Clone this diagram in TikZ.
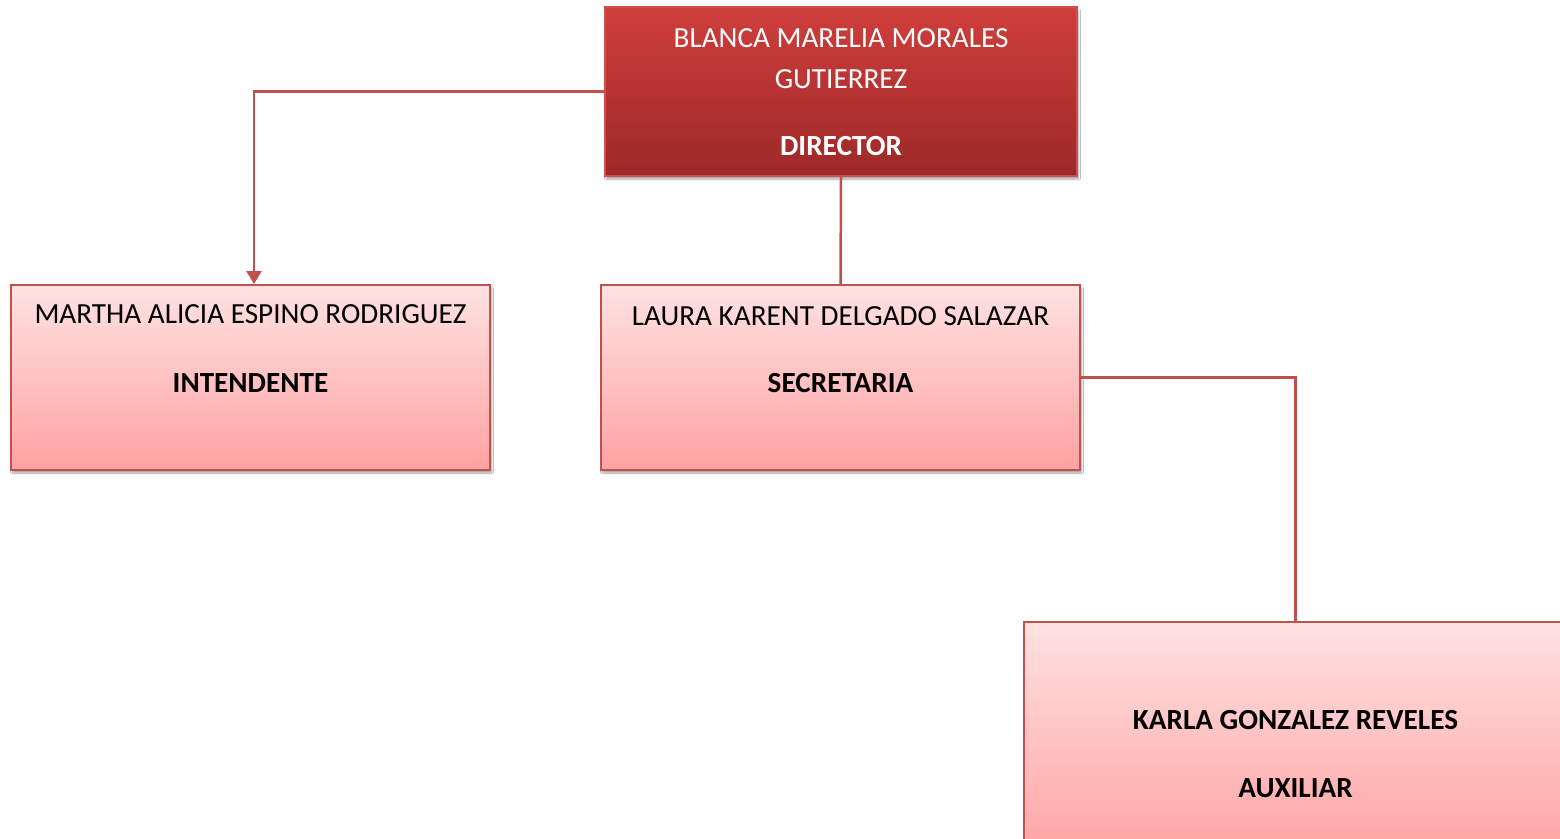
\documentclass[tikz,border=0pt]{standalone}
\usepackage{fontspec}
\setmainfont{Carlito}
\usetikzlibrary{arrows.meta,shadows.blur}
\definecolor{conncol}{RGB}{192,80,77}
\definecolor{darktop}{RGB}{207,62,59}
\definecolor{darkbot}{RGB}{157,41,41}
\definecolor{lighttop}{RGB}{255,226,226}
\definecolor{lightbot}{RGB}{255,162,162}
\definecolor{darkborder}{RGB}{205,80,76}
\tikzset{
  boxbase/.style={rectangle, inner sep=0pt, line width=2pt,
    blur shadow={shadow xshift=1.5pt, shadow yshift=-3pt, shadow blur steps=6, shadow opacity=35}},
  darkbox/.style={boxbase, draw=darkborder, top color=darktop, bottom color=darkbot},
  lightbox/.style={boxbase, draw=conncol, top color=lighttop, bottom color=lightbot},
  txt/.style={anchor=base, inner sep=0pt, font=\fontsize{29.2}{35}\selectfont},
  btxt/.style={txt, font=\fontsize{29.2}{35}\selectfont\bfseries},
  wtxt/.style={txt, text=white},
  conn/.style={draw=conncol, line width=2.5pt},
}
\begin{document}
\begin{tikzpicture}[x=1pt,y=-1pt]
\useasboundingbox (0,0) rectangle (1560,838);
\fill[white] (0,0) rectangle (1560,838);
% boxes
\node[darkbox, minimum width=472pt, minimum height=169pt] (dir) at (841,91.5) {};
\node[lightbox, minimum width=479pt, minimum height=185pt] (mar) at (250.5,377.5) {};
\node[lightbox, minimum width=479pt, minimum height=185pt] (lau) at (840.5,377.5) {};
\node[lightbox, minimum width=543pt, minimum height=238pt] (kar) at (1295.5,741) {};
% texts
\node[wtxt] (dirA) at (841,47) {BLANCA MARELIA MORALES};
\node[wtxt] (dirB) at (841,88) {GUTIERREZ};
\node[btxt, text=white] (dirC) at (841,155) {DIRECTOR};
\node[txt] (marA) at (250.5,323) {MARTHA ALICIA ESPINO RODRIGUEZ};
\node[btxt] (marB) at (250.5,392) {INTENDENTE};
\node[txt] (lauA) at (840.5,325) {LAURA KARENT DELGADO SALAZAR};
\node[btxt] (lauB) at (840.5,392) {SECRETARIA};
\node[btxt] (karA) at (1295.5,729) {KARLA GONZALEZ REVELES};
\node[btxt] (karB) at (1295.5,797) {AUXILIAR};
% connectors
\coordinate (marIn) at ([xshift=3.5pt]mar.north);
\draw[conn, -{Triangle[width=15pt,length=13pt]}] (dir.west) -| (marIn);
\draw[conn] (dir.south) -- (lau.north);
\draw[conn] (lau.east) -| (kar.north);
\end{tikzpicture}
\end{document}
